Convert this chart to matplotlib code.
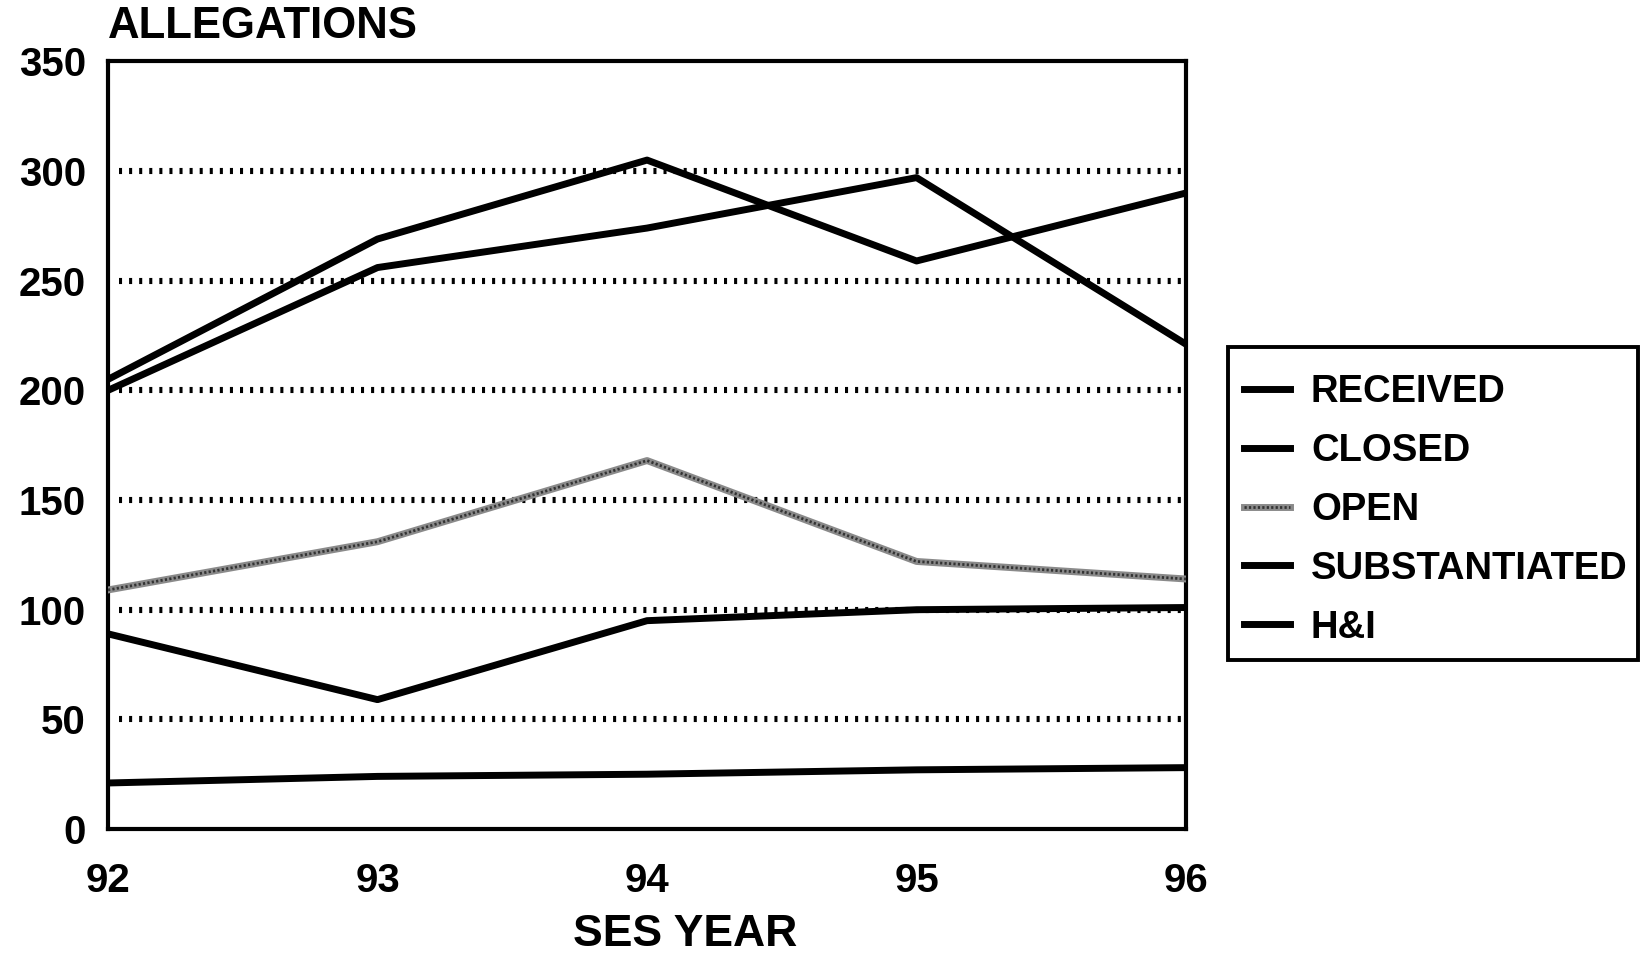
import matplotlib
matplotlib.use("Agg")
import matplotlib.pyplot as plt
from matplotlib.lines import Line2D
from matplotlib.patches import Rectangle
from matplotlib.legend_handler import HandlerTuple

plt.rcParams['font.family'] = ['Liberation Sans', 'DejaVu Sans']
plt.rcParams['font.weight'] = 'bold'

years = [92, 93, 94, 95, 96]
received = [205, 269, 305, 259, 290]
closed = [200, 256, 274, 297, 221]
open_cases = [109, 131, 168, 122, 114]
substantiated = [89, 59, 95, 100, 101]
h_and_i = [21, 24, 25, 27, 28]

yticks = [0, 50, 100, 150, 200, 250, 300, 350]
grid_levels = [50, 100, 150, 200, 250, 300]

LW = 5.0
W, H = 1641, 956

fig = plt.figure(figsize=(W / 100, H / 100), dpi=100)
ax = fig.add_axes([0.0658, 0.1328, 0.657, 0.803])

# dotted reference lines
for lvl in grid_levels:
    ax.axhline(lvl, xmin=0.01, xmax=0.997, color='black', lw=4.4,
               linestyle=(0, (0.5, 1.15)), dash_capstyle='butt', zorder=1)

ax.plot(years, received, color='black', lw=LW, zorder=3)
ax.plot(years, closed, color='black', lw=LW, zorder=3)
# hatched grey line for open cases
ax.plot(years, open_cases, color='#8a8a8a', lw=LW, zorder=3)
ax.plot(years, open_cases, color='#333333', lw=2.0,
        linestyle=(0, (0.8, 0.8)), zorder=4)
ax.plot(years, substantiated, color='black', lw=LW, zorder=3)
ax.plot(years, h_and_i, color='black', lw=LW, zorder=3)

ax.set_xlim(92, 96)
ax.set_ylim(0, 350)
ax.set_xticks(years)
ax.set_xticklabels([str(y) for y in years])
ax.set_yticks(yticks)
ax.tick_params(axis='both', length=0, labelsize=29)
ax.tick_params(axis='y', pad=16)
ax.tick_params(axis='x', pad=24)
for sp in ax.spines.values():
    sp.set_linewidth(3.0)

ax.set_xlabel('SES YEAR', fontsize=32, fontweight='bold')
ax.xaxis.set_label_coords(0.535, -0.111)
fig.text(108 / W, 1 - 27 / H, 'ALLEGATIONS', fontsize=31.5,
         fontweight='bold', ha='left', va='center')

solid = lambda: Line2D([], [], color='black', lw=LW)
open_handle = (Line2D([], [], color='#8a8a8a', lw=LW),
               Line2D([], [], color='#333333', lw=2.0, linestyle=(0, (0.8, 0.8))))
handles = [solid(), solid(), open_handle, solid(), solid()]
labels = ['RECEIVED', 'CLOSED', 'OPEN', 'SUBSTANTIATED', 'H&I']
leg = fig.legend(handles, labels, loc='upper left',
                 bbox_to_anchor=(1228 / W, 1 - 358 / H),
                 fontsize=27.5, frameon=False,
                 handlelength=1.2, handletextpad=0.55, labelspacing=0.6,
                 borderpad=0.42, borderaxespad=0,
                 handler_map={tuple: HandlerTuple(ndivide=1, pad=0)})
for t in leg.get_texts():
    t.set_fontweight('bold')

# legend box
fig.patches.append(Rectangle((1228 / W, 1 - 660 / H), 410 / W, 313 / H,
                             transform=fig.transFigure, fill=False,
                             edgecolor='black', lw=2.8))

fig.savefig('out.png', dpi=100, facecolor='white')
